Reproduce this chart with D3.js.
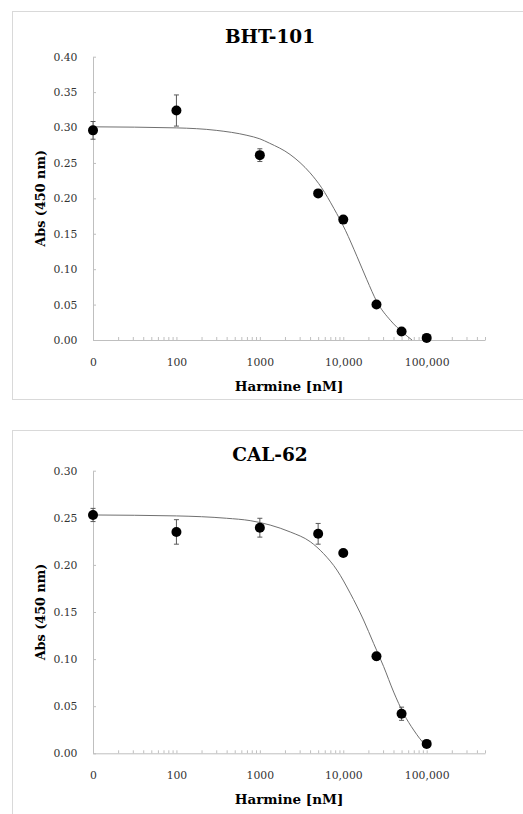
<!DOCTYPE html>
<html>
<head>
<meta charset="utf-8">
<script src="https://cdn.jsdelivr.net/npm/d3@7"></script>
<style>
  body { margin: 0; background: #fff; }
  .axis path, .axis line { stroke: #bfbfbf; }
</style>
</head>
<body>
<div class="container"></div>
<script>
// concentrations (nM); the first one is the untreated control drawn at the "0" position
const conc = [10, 100, 1000, 5000, 10000, 25000, 50000, 100000]

// BHT-101
const bhtMean = [0.296, 0.324, 0.261, 0.207, 0.170, 0.050, 0.012, 0.003]
const bhtErr = [0.0125, 0.022, 0.009, 0.003, 0.003, 0.003, 0.003, 0.001]
const bhtFitX = [10, 100, 300, 700, 1000, 1300, 2300, 4000, 5500, 7700, 10600, 14600, 19200, 25300, 36600, 53000, 66700]
const bhtFitY = [0.301, 0.2995, 0.296, 0.289, 0.284, 0.278, 0.262, 0.236, 0.215, 0.186, 0.155, 0.118, 0.085, 0.054, 0.028, 0.0095, 0]

// CAL-62
const calMean = [0.253, 0.235, 0.2395, 0.233, 0.2126, 0.103, 0.042, 0.010]
const calErr = [0.007, 0.013, 0.010, 0.011, 0.003, 0.004, 0.007, 0.002]
const calFitX = [10, 100, 400, 766, 1330, 2310, 4020, 5800, 8400, 12100, 17500, 23100, 30500, 40200, 53000, 69800, 96400, 100000]
const calFitY = [0.253, 0.252, 0.2495, 0.247, 0.2423, 0.235, 0.2246, 0.212, 0.1945, 0.170, 0.1415, 0.1167, 0.092, 0.065, 0.042, 0.0247, 0.0088, 0.0075]

// x tick labels
const xMajor = [10, 100, 1000, 10000, 100000]
const xLabels = ['0', '100', '1000', '10,000', '100,000']

const w = 523
const h = 814

const svg = d3.select('.container')
  .append('svg')
  .attr('width', w)
  .attr('height', h)

// one panel = border + title + axes + fit + points
function drawPanel(opt) {
  const g = svg.append('g')

  g.append('rect')
    .attr('x', 12.5)
    .attr('y', opt.boxTop)
    .attr('width', 530)
    .attr('height', opt.boxH)
    .attr('fill', 'none')
    .attr('stroke', '#d9d9d9')

  const x = d3.scaleLog().domain([10, 500000]).range([93, 485])
  const y = d3.scaleLinear().domain([0, opt.yMax]).range([opt.bottom, opt.top])

  const xAxis = d3.axisBottom(x)
    .tickValues(x.ticks())
    .tickSizeInner(-3)
    .tickSizeOuter(0)
    .tickPadding(18)
    .tickFormat((d) => {
      const i = xMajor.indexOf(d)
      return i < 0 ? '' : xLabels[i]
    })

  g.append('g')
    .attr('class', 'axis')
    .attr('transform', 'translate(0,' + opt.bottom + ')')
    .call(xAxis)

  const yAxis = d3.axisLeft(y)
    .tickValues(d3.range(0, opt.yMax + 0.001, 0.05))
    .tickSizeInner(-3)
    .tickSizeOuter(0)
    .tickPadding(15.5)
    .tickFormat(d3.format('.2f'))

  g.append('g')
    .attr('class', 'axis')
    .attr('transform', 'translate(93,0)')
    .call(yAxis)

  g.selectAll('.axis')
    .attr('font-family', 'DejaVu Serif')
    .attr('font-size', 10.8)
    .selectAll('text')
    .attr('fill', '#333')

  // titles
  g.append('text')
    .attr('x', 270)
    .attr('y', opt.titleY)
    .attr('text-anchor', 'middle')
    .attr('dominant-baseline', 'central')
    .style('font-family', 'DejaVu Serif')
    .style('font-weight', 'bold')
    .style('font-size', '18.5px')
    .text(opt.title)

  g.append('text')
    .attr('x', 289)
    .attr('y', opt.bottom + 51)
    .attr('text-anchor', 'middle')
    .style('font-family', 'DejaVu Serif')
    .style('font-weight', 'bold')
    .style('font-size', '13.5px')
    .text('Harmine [nM]')

  g.append('text')
    .attr('transform', 'translate(45,' + (opt.top + opt.bottom) / 2 + ') rotate(-90)')
    .attr('text-anchor', 'middle')
    .style('font-family', 'DejaVu Serif')
    .style('font-weight', 'bold')
    .style('font-size', '12.8px')
    .text('Abs (450 nm)')

  // fitted curve
  const fit = opt.fitX.map((d, i) => [d, opt.fitY[i]])
  g.append('path')
    .datum(fit)
    .attr('fill', 'none')
    .attr('stroke', '#707070')
    .attr('stroke-width', 1)
    .attr('d', d3.line()
      .x((d) => x(d[0]))
      .y((d) => y(d[1]))
      .curve(d3.curveMonotoneX))

  const pts = conc.map((d, i) => ({ c: d, m: opt.mean[i], e: opt.err[i] }))

  // error bars
  const eb = g.append('g')
    .attr('stroke', '#595959')
    .attr('stroke-width', 1)
    .selectAll('g')
    .data(pts)
    .enter()
    .append('g')
  eb.append('line')
    .attr('x1', (d) => x(d.c)).attr('x2', (d) => x(d.c))
    .attr('y1', (d) => y(d.m - d.e)).attr('y2', (d) => y(d.m + d.e))
  eb.append('line')
    .attr('x1', (d) => x(d.c) - 2.5).attr('x2', (d) => x(d.c) + 2.5)
    .attr('y1', (d) => y(d.m + d.e)).attr('y2', (d) => y(d.m + d.e))
  eb.append('line')
    .attr('x1', (d) => x(d.c) - 2.5).attr('x2', (d) => x(d.c) + 2.5)
    .attr('y1', (d) => y(d.m - d.e)).attr('y2', (d) => y(d.m - d.e))

  // points
  g.append('g')
    .selectAll('circle')
    .data(pts)
    .enter()
    .append('circle')
    .attr('cx', (d) => x(d.c))
    .attr('cy', (d) => y(d.m))
    .attr('r', 5)
    .attr('fill', '#000')
}

drawPanel({
  title: 'BHT-101', titleY: 36, boxTop: 11.5, boxH: 388,
  top: 56.7, bottom: 340, yMax: 0.40,
  mean: bhtMean, err: bhtErr, fitX: bhtFitX, fitY: bhtFitY
})

drawPanel({
  title: 'CAL-62', titleY: 454.7, boxTop: 430.5, boxH: 420,
  top: 470.7, bottom: 753.3, yMax: 0.30,
  mean: calMean, err: calErr, fitX: calFitX, fitY: calFitY
})
</script>
</body>
</html>
